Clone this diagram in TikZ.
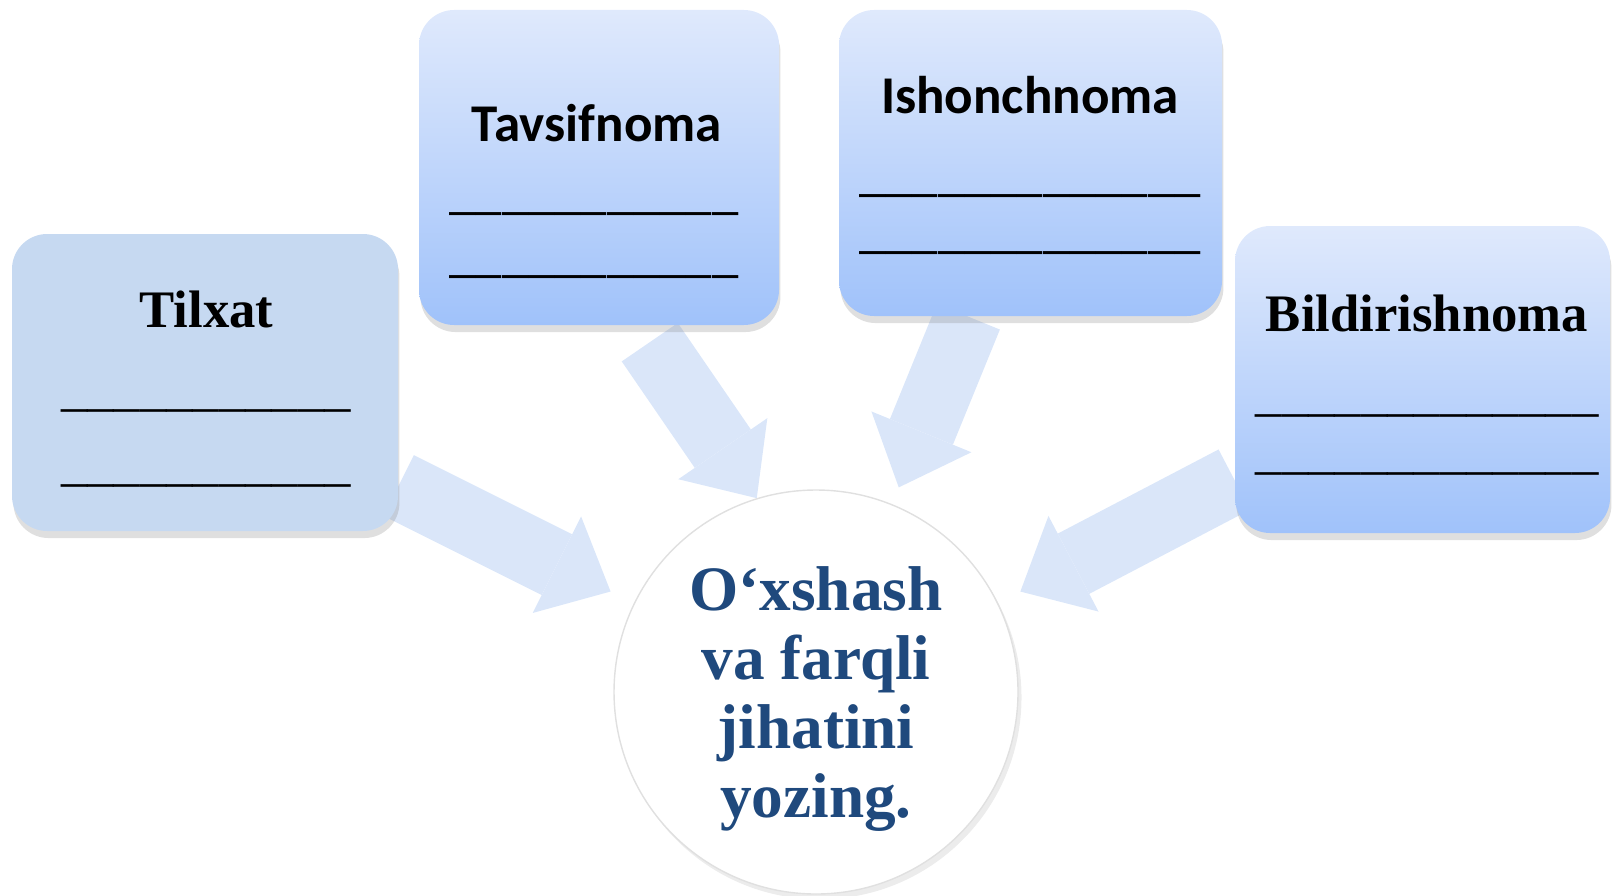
\documentclass[tikz,border=0pt]{standalone}
\usepackage{fontspec}
\newfontfamily\calfont{Carlito}
\newfontfamily\timesfont{Liberation Serif}
\usetikzlibrary{arrows.meta,shadows}
\definecolor{BoxTopClr}{rgb}{0.875,0.914,0.988}
\definecolor{BoxBotClr}{rgb}{0.627,0.761,0.980}
\definecolor{FlatClr}{rgb}{0.776,0.851,0.945}
\definecolor{ArrowClr}{rgb}{0.855,0.902,0.976}
\definecolor{TextClr}{rgb}{0.122,0.286,0.490}
\definecolor{RimClr}{rgb}{0.878,0.878,0.878}
\pgfdeclarelayer{back}
\pgfsetlayers{back,main}
\newcommand\blanks[1]{\foreach\k in {1,...,#1}{\_}}

\begin{document}
\begin{tikzpicture}[
  card/.style={rounded corners=10pt,inner sep=0pt,
    drop shadow={opacity=.25,shadow xshift=.4pt,shadow yshift=-2pt}},
  shade card/.style={card,top color=BoxTopClr,bottom color=BoxBotClr},
  sans title/.style={anchor=base,font=\calfont\bfseries\fontsize{15.1}{19}\selectfont},
  serif title/.style={anchor=base,font=\timesfont\bfseries\fontsize{15}{19}\selectfont},
  sans blank/.style={anchor=base,font=\calfont\fontsize{15}{18}\selectfont},
  serif blank/.style={anchor=base,font=\timesfont\fontsize{15}{18}\selectfont},
  flow/.style={draw=ArrowClr,line width=.68cm,
    -{Triangle[width=1.08cm,length=.6cm,line width=0pt]}}
]
\useasboundingbox (0,0) rectangle (16.12,-8.95);

\node[card,fill=FlatClr,minimum width=3.86cm,minimum height=2.97cm] (tilx) at (2.05,-3.825) {};
\node[shade card,minimum width=3.60cm,minimum height=3.15cm] (tavs) at (5.99,-1.675) {};
\node[shade card,minimum width=3.83cm,minimum height=3.06cm] (ishon) at (10.305,-1.63) {};
\node[shade card,minimum width=3.75cm,minimum height=3.07cm] (bild) at (14.225,-3.795) {};

\node[circle,draw=RimClr,fill=white,minimum size=4.04cm,
  drop shadow={opacity=.15,shadow xshift=1pt,shadow yshift=-1.5pt}] (circ) at (8.16,-6.92) {};

\begin{pgfonlayer}{back}
\draw[flow,shorten >=.26cm] (tilx.-28) -- (circ.154);
\draw[flow,shorten <=.2cm] (tavs.-76) -- (circ.107);
\draw[flow,shorten >=.18cm] (ishon.-112) -- (circ.68.5);
\draw[flow,shorten >=.25cm] (bild.-152) -- (circ.26);
\end{pgfonlayer}

\node[serif title] (tilxT) at (2.065,-3.27) {Tilxat};
\node[serif blank] (tilxA) at (2.06,-4.05) {\blanks{11}};
\node[serif blank] (tilxB) at (2.06,-4.80) {\blanks{11}};

\node[sans title] (tavsT) at (5.97,-1.42) {Tavsifnoma};
\node[sans blank] (tavsA) at (5.94,-2.08) {\blanks{11}};
\node[sans blank] (tavsB) at (5.94,-2.71) {\blanks{11}};

\node[sans title] (ishonT) at (10.30,-1.14) {Ishonchnoma};
\node[sans blank] (ishonA) at (10.30,-1.90) {\blanks{13}};
\node[sans blank] (ishonB) at (10.30,-2.47) {\blanks{13}};

\node[serif title] (bildT) at (14.27,-3.31) {Bildirishnoma};
\node[serif blank] (bildA) at (14.27,-4.10) {\blanks{13}};
\node[serif blank] (bildB) at (14.27,-4.68) {\blanks{13}};

\node[anchor=base,align=center,text=TextClr,
  font=\timesfont\bfseries\fontsize{18}{19.6}\selectfont] (ask) at (8.16,-8.17)
  {O‘xshash\\va farqli\\jihatini\\yozing.};

\end{tikzpicture}
\end{document}
